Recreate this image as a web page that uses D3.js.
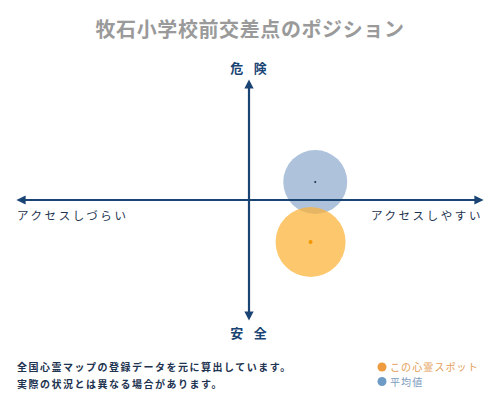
<!DOCTYPE html>
<html><head><meta charset="utf-8">
<script src="https://cdn.jsdelivr.net/npm/d3@7"></script>
<style>
body{margin:0;background:#fff;}
svg{display:block;font-family:"DejaVu Serif","Noto Sans CJK JP",serif;}
</style></head>
<body><svg id="c" width="500" height="400"></svg>
<script>
const title = "牧石小学校前交差点のポジション";
const seriesNames = ["平均値", "この心霊スポット"];
const accessValues = [28, 26];   // x: -100 (しづらい) .. 100 (しやすい)
const dangerValues = [15, -35];  // y: -100 (安全) .. 100 (危険)
const spreadValues = [0.32, 0.35];
const axisLabels = {top: "危 険", bottom: "安 全", left: "アクセスしづらい", right: "アクセスしやすい"};
const noteLines = ["全国心霊マップの登録データを元に算出しています。", "実際の状況とは異なる場合があります。"];

const colors = ["rgba(108,145,190,0.55)", "rgba(252,178,54,0.72)"];
const dotColors = ["#1a2a40", "#f39800"];
const legendColors = ["#6e9bc5", "#ee9a3e"];
const legendText = ["#7b9cbd", "#e39c55"];
const navy = "#1a4474";

const svg = d3.select("#c");
const x = d3.scaleLinear().domain([-100, 100]).range([17, 483]);
const y = d3.scaleLinear().domain([-100, 100]).range([320, 80]);
const r = d3.scaleLinear().domain([0, 1]).range([0, 100]);

svg.append("text").attr("x", 250).attr("y", 37).attr("text-anchor", "middle")
  .attr("font-size", 20).attr("font-weight", "bold").attr("fill", "#9a9a9a")
  .attr("letter-spacing", 0.6).text(title);

const data = seriesNames.map((n, i) => ({n, x: accessValues[i], y: dangerValues[i], s: spreadValues[i], i}));
svg.selectAll("circle.b").data(data).join("circle").attr("class", "b")
  .attr("cx", d => x(d.x)).attr("cy", d => y(d.y)).attr("r", d => r(d.s))
  .attr("fill", d => colors[d.i]);

const defs = svg.append("defs");
defs.append("marker").attr("id", "ah").attr("viewBox", "0 0 10 10").attr("refX", 5).attr("refY", 5)
  .attr("markerWidth", 4.2).attr("markerHeight", 4.2).attr("orient", "auto-start-reverse")
  .append("path").attr("d", "M0,0 L10,5 L0,10 Z").attr("fill", navy);
svg.append("line").attr("x1", x(-100) + 4).attr("x2", x(100) - 4).attr("y1", y(0)).attr("y2", y(0))
  .attr("stroke", navy).attr("stroke-width", 2.2)
  .attr("marker-start", "url(#ah)").attr("marker-end", "url(#ah)");
svg.append("line").attr("x1", x(0) - 1).attr("x2", x(0) - 1).attr("y1", y(100) + 4).attr("y2", y(-100) - 4)
  .attr("stroke", navy).attr("stroke-width", 2.2)
  .attr("marker-start", "url(#ah)").attr("marker-end", "url(#ah)");

svg.selectAll("circle.d").data(data).join("circle").attr("class", "d")
  .attr("cx", d => x(d.x)).attr("cy", d => y(d.y)).attr("r", d => d.i === 0 ? 1 : 2)
  .attr("fill", d => dotColors[d.i]);

svg.append("text").attr("x", x(0)).attr("y", 73).attr("text-anchor", "middle")
  .attr("font-size", 13).attr("font-weight", "bold").attr("fill", navy).attr("letter-spacing", 3).text(axisLabels.top);
svg.append("text").attr("x", x(0)).attr("y", 338).attr("text-anchor", "middle")
  .attr("font-size", 13).attr("font-weight", "bold").attr("fill", navy).attr("letter-spacing", 3).text(axisLabels.bottom);
svg.append("text").attr("x", 17).attr("y", 220).attr("font-size", 11.5).attr("fill", "#1d3350")
  .attr("letter-spacing", 2.6).text(axisLabels.left);
svg.append("text").attr("x", 483).attr("y", 220).attr("text-anchor", "end").attr("font-size", 11.5).attr("fill", "#1d3350")
  .attr("letter-spacing", 2.6).text(axisLabels.right);

noteLines.forEach((t, i) => {
  svg.append("text").attr("x", 17).attr("y", 371 + i * 16.5).attr("font-size", 10).attr("font-weight", "bold")
    .attr("fill", "#1d3350").attr("letter-spacing", 1.5).text(t);
});

const legendOrder = [1, 0];
legendOrder.forEach((si, k) => {
  const ly = 367 + k * 14.5;
  svg.append("circle").attr("cx", 382).attr("cy", ly).attr("r", 4.5).attr("fill", legendColors[si]);
  svg.append("text").attr("x", 390).attr("y", ly + 4).attr("font-size", 10).attr("fill", legendText[si])
    .attr("letter-spacing", 1.1).text(seriesNames[si]);
});
</script></body></html>
